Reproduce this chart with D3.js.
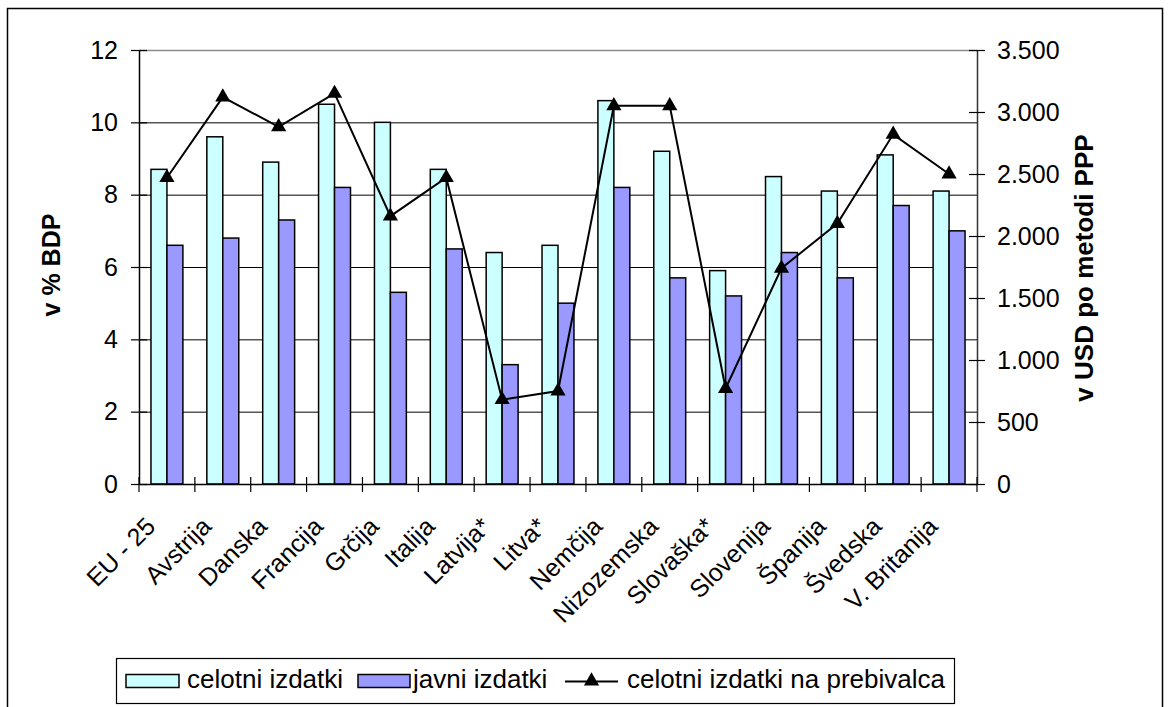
<!DOCTYPE html>
<html><head><meta charset="utf-8">
<script src="https://cdn.jsdelivr.net/npm/d3@7"></script>
<style>
html,body{margin:0;padding:0;background:#fff;}
svg{display:block;font-family:"Liberation Sans",Arial,sans-serif;}
</style></head>
<body><svg id="c" width="1170" height="707"></svg>
<script>
const categories = ["EU - 25","Avstrija","Danska","Francija","Grčija","Italija","Latvija*","Litva*","Nemčija","Nizozemska","Slovaška*","Slovenija","Španija","Švedska","V. Britanija"];
const celotni = [8.7, 9.6, 8.9, 10.5, 10.0, 8.7, 6.4, 6.6, 10.6, 9.2, 5.9, 8.5, 8.1, 9.1, 8.1];
const javni = [6.6, 6.8, 7.3, 8.2, 5.3, 6.5, 3.3, 5.0, 8.2, 5.7, 5.2, 6.4, 5.7, 7.7, 7.0];
const prebivalca = [2470, 3120, 2880, 3150, 2160, 2470, 680, 750, 3050, 3050, 770, 1740, 2100, 2820, 2500];
const leftTicks = [0, 2, 4, 6, 8, 10, 12];
const rightTicks = [0, 500, 1000, 1500, 2000, 2500, 3000, 3500];
const seriesNames = ["celotni izdatki", "javni izdatki", "celotni izdatki na prebivalca"];

const svg = d3.select("#c");
const L = 139, R = 977, T = 50, B = 484;

// outer frame
svg.append("rect").attr("x", 7.5).attr("y", 8.5).attr("width", 1155).attr("height", 740)
  .attr("fill", "#fff").attr("stroke", "#000").attr("stroke-width", 1.5);

const x = d3.scaleBand().domain(categories).range([L, R]).padding(0);
const xi = d3.scaleBand().domain(["c", "j"]).range([0, x.bandwidth()]).paddingInner(0).paddingOuter(0.75);
const y = d3.scaleLinear().domain([0, 12]).range([B, T]);
const y2 = d3.scaleLinear().domain([0, 3500]).range([B, T]);

// gridlines
svg.append("g").selectAll("line").data(leftTicks.filter(d => d > 0 && d < 12)).join("line")
  .attr("x1", L).attr("x2", R).attr("y1", d => y(d) + 0.5).attr("y2", d => y(d) + 0.5)
  .attr("stroke", "#000").attr("stroke-width", 1);
// plot top border
svg.append("line").attr("x1", L).attr("x2", R).attr("y1", T + 0.5).attr("y2", T + 0.5)
  .attr("stroke", "#8c8c8c").attr("stroke-width", 1.5);

// bars
const data = categories.map((c, i) => ({c, v1: celotni[i], v2: javni[i], p: prebivalca[i]}));
const g = svg.append("g");
g.selectAll("rect.c").data(data).join("rect").attr("class", "c")
  .attr("x", d => x(d.c) + xi("c")).attr("width", xi.bandwidth())
  .attr("y", d => y(d.v1)).attr("height", d => B - y(d.v1))
  .attr("fill", "#ccffff").attr("stroke", "#000").attr("stroke-width", 1.5);
g.selectAll("rect.j").data(data).join("rect").attr("class", "j")
  .attr("x", d => x(d.c) + xi("j")).attr("width", xi.bandwidth())
  .attr("y", d => y(d.v2)).attr("height", d => B - y(d.v2))
  .attr("fill", "#9999ff").attr("stroke", "#000").attr("stroke-width", 1.5);

// axes
const fmtLocale = d3.formatLocale({decimal: ",", thousands: ".", grouping: [3], currency: ["", ""]});
const fmt = fmtLocale.format(",");

const yAxis = svg.append("g").attr("transform", `translate(${L},0)`)
  .call(d3.axisLeft(y).tickValues(leftTicks).tickSize(8).tickPadding(13).tickSizeOuter(0));
yAxis.selectAll(".tick line").attr("x2", 8).attr("x1", -8);
const y2Axis = svg.append("g").attr("transform", `translate(${R},0)`)
  .call(d3.axisRight(y2).tickValues(rightTicks).tickFormat(fmt).tickSize(8).tickPadding(12).tickSizeOuter(0));
y2Axis.selectAll(".tick line").attr("x1", -8).attr("x2", 8);
const xAxis = svg.append("g").attr("transform", `translate(0,${B})`)
  .call(d3.axisBottom(x).tickSize(0).tickFormat(""));
// category boundary ticks
svg.append("g").selectAll("line").data(d3.range(categories.length + 1)).join("line")
  .attr("x1", i => L + i * x.step()).attr("x2", i => L + i * x.step())
  .attr("y1", B - 7).attr("y2", B + 8).attr("stroke", "#000").attr("stroke-width", 1.2);

[yAxis, y2Axis].forEach(a => {
  a.selectAll("text").attr("font-size", 25).attr("fill", "#000").attr("font-family", "Liberation Sans, Arial, sans-serif");
  a.selectAll("line").attr("stroke", "#000").attr("stroke-width", 1.2);
});
yAxis.select(".domain").attr("stroke", "#000").attr("stroke-width", 1.5);
y2Axis.select(".domain").attr("stroke", "#333").attr("stroke-width", 1.5);
xAxis.select(".domain").attr("stroke", "#000").attr("stroke-width", 1.5);

// category labels
svg.append("g").selectAll("text").data(categories).join("text")
  .attr("transform", d => `translate(${x(d) + x.bandwidth() / 2 - 10},${B + 44}) rotate(-45)`)
  .attr("text-anchor", "end").attr("font-size", 25).attr("fill", "#000")
  .text(d => d);

// line series
const lineGen = d3.line().x(d => x(d.c) + x.bandwidth() / 2).y(d => y2(d.p));
svg.append("path").datum(data).attr("d", lineGen).attr("fill", "none")
  .attr("stroke", "#000").attr("stroke-width", 2);
const tri = d3.symbol().type(d3.symbolTriangle).size(100);
svg.append("g").selectAll("path").data(data).join("path")
  .attr("transform", d => `translate(${x(d.c) + x.bandwidth() / 2},${y2(d.p)})`)
  .attr("d", tri).attr("fill", "#000");

// axis titles
svg.append("text").attr("transform", `translate(60,265) rotate(-90)`)
  .attr("text-anchor", "middle").attr("font-size", 25).attr("font-weight", "bold").text("v % BDP");
svg.append("text").attr("transform", `translate(1093,268) rotate(-90)`)
  .attr("text-anchor", "middle").attr("font-size", 26).attr("font-weight", "bold").text("v USD po metodi PPP");

// legend
const lg = svg.append("g");
lg.append("rect").attr("x", 116.5).attr("y", 658.5).attr("width", 838).attr("height", 45)
  .attr("fill", "#fff").attr("stroke", "#000").attr("stroke-width", 1.2);
lg.append("rect").attr("x", 126).attr("y", 674.5).attr("width", 53).attr("height", 13)
  .attr("fill", "#ccffff").attr("stroke", "#000").attr("stroke-width", 1.5);
lg.append("text").attr("x", 187).attr("y", 688).attr("font-size", 26).text(seriesNames[0]);
lg.append("rect").attr("x", 358).attr("y", 674.5).attr("width", 52).attr("height", 13)
  .attr("fill", "#9999ff").attr("stroke", "#000").attr("stroke-width", 1.5);
lg.append("text").attr("x", 413).attr("y", 688).attr("font-size", 26).text(seriesNames[1]);
lg.append("line").attr("x1", 565).attr("x2", 618).attr("y1", 681.5).attr("y2", 681.5)
  .attr("stroke", "#000").attr("stroke-width", 2);
lg.append("path").attr("transform", "translate(591.5,681)").attr("d", tri).attr("fill", "#000");
lg.append("text").attr("x", 627).attr("y", 688).attr("font-size", 26).text(seriesNames[2]);
</script></body></html>
